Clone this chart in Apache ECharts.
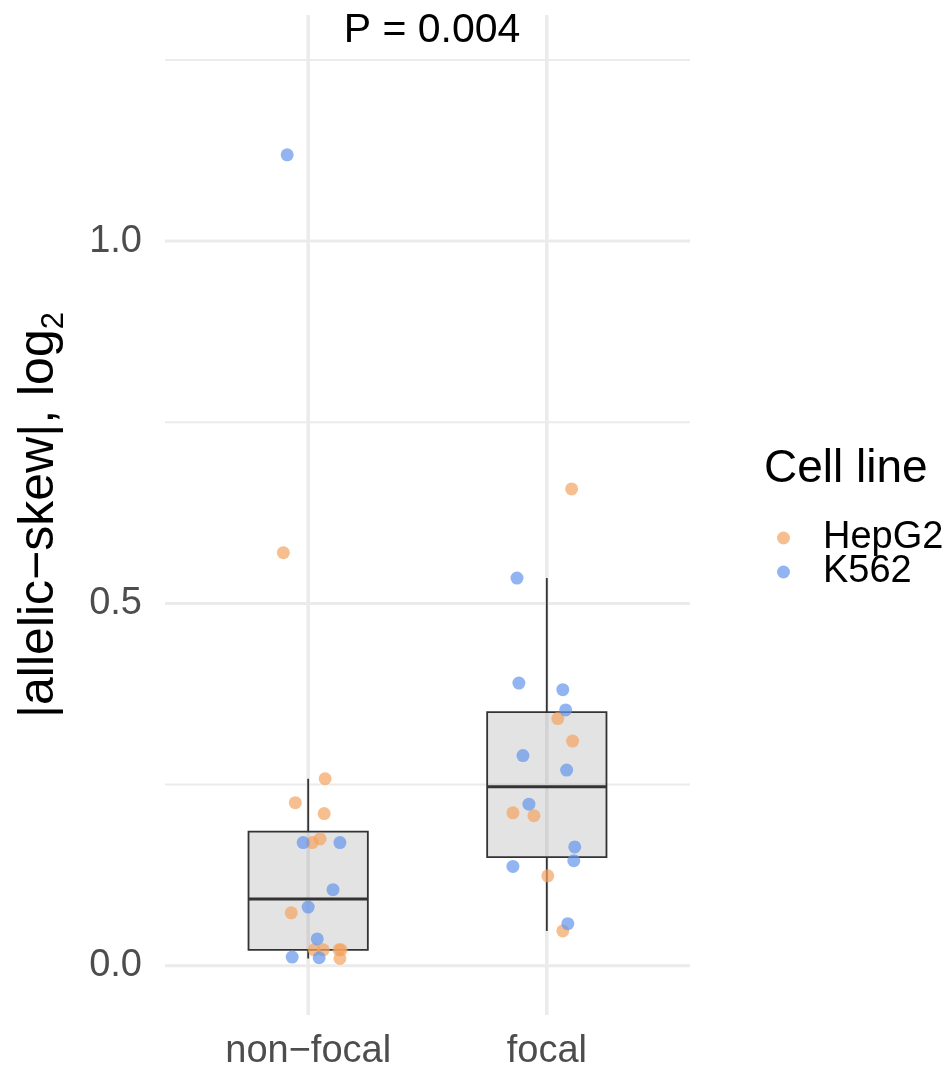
<!DOCTYPE html>
<html>
<head>
<meta charset="utf-8">
<script src="https://cdn.jsdelivr.net/npm/echarts@6/dist/echarts.min.js"></script>
<style>
html,body{margin:0;padding:0;background:#fff;}
#chart{width:945px;height:1072px;}
</style>
</head>
<body>
<div id="chart"></div>
<script>
// ---- data ----
const categories = ['non\u2212focal', 'focal'];
// [categoryIndex, jitterOffset, value]
const hepg2Points = [
  [0, -0.104, 0.570], [0, 0.071, 0.258], [0, -0.054, 0.225], [0, 0.067, 0.210],
  [0, 0.050, 0.175], [0, 0.017, 0.170], [0, -0.071, 0.073], [0, 0.025, 0.022],
  [0, 0.063, 0.022], [0, 0.129, 0.022], [0, 0.138, 0.022], [0, 0.133, 0.010],
  [1, 0.104, 0.658], [1, 0.046, 0.341], [1, 0.108, 0.310], [1, -0.142, 0.211],
  [1, -0.054, 0.207], [1, 0.004, 0.124], [1, 0.067, 0.048]
];
const k562Points = [
  [0, -0.088, 1.119], [0, -0.021, 0.170], [0, 0.133, 0.170], [0, 0.104, 0.105],
  [0, 0.000, 0.081], [0, 0.038, 0.037], [0, -0.067, 0.012], [0, 0.046, 0.011],
  [1, -0.125, 0.535], [1, -0.117, 0.390], [1, 0.067, 0.381], [1, 0.079, 0.353],
  [1, -0.100, 0.290], [1, 0.083, 0.270], [1, -0.075, 0.223], [1, 0.117, 0.164],
  [1, 0.113, 0.145], [1, -0.142, 0.137], [1, 0.088, 0.058]
];
// [whiskerLow, q1, median, q3, whiskerHigh]
const boxStats = [
  [0.010, 0.022, 0.092, 0.185, 0.258],
  [0.048, 0.150, 0.247, 0.350, 0.535]
];
const yMajorTicks = [0, 0.5, 1.0];
const yMinorTicks = [0.25, 0.75, 1.25];
const pLabel = 'P = 0.004';
const legendTitle = 'Cell line';
const seriesNames = ['HepG2', 'K562'];

// ---- chart ----
const chart = echarts.init(document.getElementById('chart'), null, {renderer: 'canvas'});
const FONT = '"Liberation Sans", Arial, Helvetica, sans-serif';
const xMin = 0.4, xMax = 2.6, yMin = -0.068, yMax = 1.312;

function toXY(arr) { return arr.map(p => [p[0] + 1 + p[1], p[2]]); }

function hLineSeries(vals, width) {
  return {
    type: 'custom', silent: true, z: 0,
    data: vals.map(v => [1.5, v]),
    renderItem: function (params, api) {
      const cs = params.coordSys;
      const y = api.coord([1.5, api.value(1)])[1];
      return {type: 'line', shape: {x1: cs.x, y1: y, x2: cs.x + cs.width, y2: y},
        style: {stroke: '#ebebeb', lineWidth: width}};
    }
  };
}

const option = {
  animation: false,
  backgroundColor: '#ffffff',
  textStyle: {fontFamily: FONT},
  grid: {left: 160, right: 255, top: 15, bottom: 57, containLabel: false},
  title: {
    text: pLabel, left: 427, top: 5, textAlign: 'center',
    textStyle: {fontFamily: FONT, fontSize: 41, fontWeight: 'normal', color: '#000'}
  },
  legend: {
    data: seriesNames, orient: 'vertical', left: 772, top: 514,
    itemWidth: 13, itemHeight: 13, itemGap: -4, icon: 'circle',
    textStyle: {fontFamily: FONT, fontSize: 38, color: '#000', lineHeight: 32, padding: [0, 0, 0, 28]}
  },
  graphic: [{
    type: 'text', left: 764, top: 446,
    style: {text: legendTitle, font: '46px ' + FONT, fill: '#000'}
  }],
  xAxis: {
    type: 'value', min: xMin, max: xMax,
    axisLine: {show: false}, axisTick: {show: false}, splitLine: {show: false},
    axisLabel: {
      customValues: [1, 2],
      formatter: v => categories[Math.round(v) - 1] || '',
      fontFamily: FONT, fontSize: 38, color: '#4d4d4d', margin: 18
    }
  },
  yAxis: {
    type: 'value', min: yMin, max: yMax,
    axisLine: {show: false}, axisTick: {show: false}, splitLine: {show: false},
    axisLabel: {
      customValues: yMajorTicks,
      formatter: v => v.toFixed(1),
      fontFamily: FONT, fontSize: 38, color: '#4d4d4d', margin: 23
    },
    name: '|allelic\u2212skew|, log{sub|2}',
    nameLocation: 'middle', nameRotate: 90, nameGap: 95,
    nameTextStyle: {
      fontFamily: FONT, fontSize: 50, color: '#000', lineHeight: 62,
      rich: {sub: {fontFamily: FONT, fontSize: 31, color: '#000', verticalAlign: 'bottom', lineHeight: 31}}
    }
  },
  series: [
    hLineSeries(yMinorTicks, 2),
    hLineSeries(yMajorTicks, 3),
    {
      type: 'custom', silent: true, z: 0,
      data: categories.map((c, i) => [i + 1, 0.5]),
      renderItem: function (params, api) {
        const cs = params.coordSys;
        const x = api.coord([api.value(0), 0.5])[0];
        return {type: 'line', shape: {x1: x, y1: cs.y, x2: x, y2: cs.y + cs.height},
          style: {stroke: '#ebebeb', lineWidth: 3.5}};
      }
    },
    {
      type: 'custom', silent: true, z: 2,
      data: boxStats.map((b, i) => [i + 1].concat(b)),
      renderItem: function (params, api) {
        const x = api.value(0);
        const lo = api.coord([x, api.value(1)]);
        const q1 = api.coord([x - 0.25, api.value(2)]);
        const med = api.value(3);
        const q3 = api.coord([x + 0.25, api.value(4)]);
        const hi = api.coord([x, api.value(5)]);
        const ml = api.coord([x - 0.25, med]);
        const mr = api.coord([x + 0.25, med]);
        const q1c = api.coord([x, api.value(2)]);
        const q3c = api.coord([x, api.value(4)]);
        return {
          type: 'group',
          children: [
            {type: 'line', shape: {x1: lo[0], y1: lo[1], x2: q1c[0], y2: q1c[1]}, style: {stroke: '#333', lineWidth: 1.8}},
            {type: 'line', shape: {x1: q3c[0], y1: q3c[1], x2: hi[0], y2: hi[1]}, style: {stroke: '#333', lineWidth: 1.8}},
            {type: 'rect', shape: {x: q1[0], y: q3[1], width: q3[0] - q1[0], height: q1[1] - q3[1]},
              style: {fill: 'rgba(128,128,128,0.22)', stroke: '#333', lineWidth: 1.8}},
            {type: 'line', shape: {x1: ml[0], y1: ml[1], x2: mr[0], y2: mr[1]}, style: {stroke: '#333', lineWidth: 3}}
          ]
        };
      }
    },
    {
      name: seriesNames[0], type: 'scatter', z: 3,
      data: toXY(hepg2Points), symbolSize: 13,
      itemStyle: {color: '#F4A460', opacity: 0.7}
    },
    {
      name: seriesNames[1], type: 'scatter', z: 3,
      data: toXY(k562Points), symbolSize: 13,
      itemStyle: {color: '#6495ED', opacity: 0.7}
    }
  ]
};
chart.setOption(option);
</script>
</body>
</html>
